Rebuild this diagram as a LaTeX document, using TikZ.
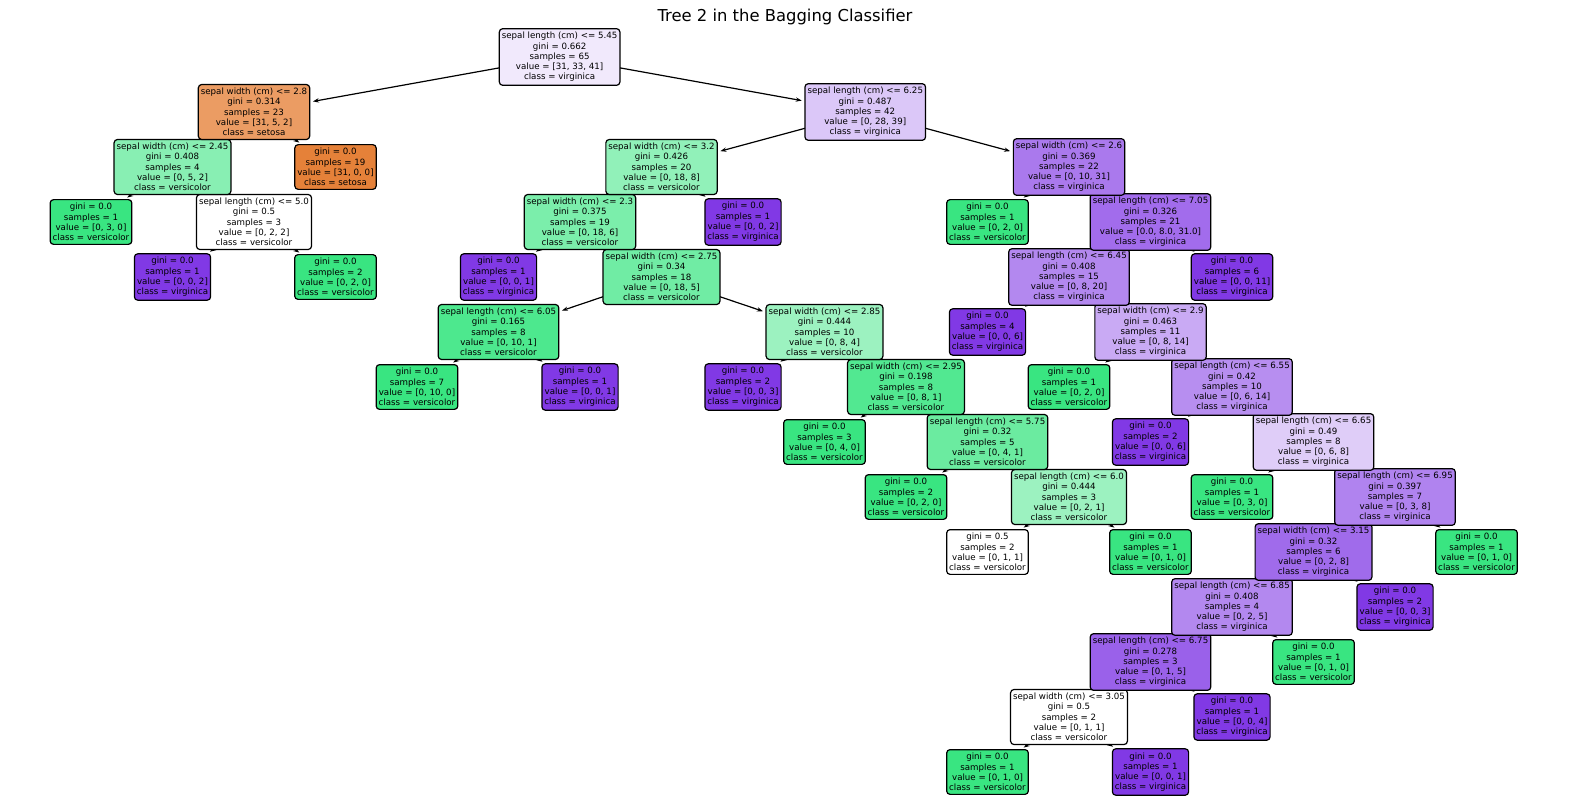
\documentclass[tikz,border=0pt]{standalone}
\usepackage{fontspec}
\setmainfont{DejaVu Sans}
\usetikzlibrary{arrows.meta,backgrounds}
\definecolor{setosa}{RGB}{229,129,57}
\definecolor{versi}{RGB}{57,229,129}
\definecolor{virgi}{RGB}{129,57,229}
\tikzset{
  treebox/.style={draw, line width=0.9pt, rounded corners=2.5pt, align=center, inner xsep=1.9pt, inner ysep=2.7pt, font=\fontsize{6.5pt}{7.7pt}\selectfont},
  branch/.style={->, line width=0.9pt, shorten >=2pt},
}
\begin{document}
\begin{tikzpicture}[x=61.125pt, y=-41.25pt, >={Stealth[length=4.5pt,width=3.2pt]}]
\useasboundingbox (-1.1166,-1.0364) rectangle (18.1472,13.6909);
\node[font=\fontsize{12.3pt}{14pt}\selectfont] (title) at (8.515,-0.727) {Tree 2 in the Bagging Classifier};

% deepest first, so that parents lie on top
\node[treebox, fill=versi] (n42) at (11,13) {gini = 0.0\\samples = 1\\value = [0, 1, 0]\\class = versicolor};
\node[treebox, fill=virgi] (n43) at (13,13) {gini = 0.0\\samples = 1\\value = [0, 0, 1]\\class = virginica};

\node[treebox, fill=white] (n41) at (12,12) {sepal width (cm) <= 3.05\\gini = 0.5\\samples = 2\\value = [0, 1, 1]\\class = versicolor};
\node[treebox, fill=virgi] (n44) at (14,12) {gini = 0.0\\samples = 1\\value = [0, 0, 4]\\class = virginica};

\node[treebox, fill=virgi!80] (n40) at (13,11) {sepal length (cm) <= 6.75\\gini = 0.278\\samples = 3\\value = [0, 1, 5]\\class = virginica};
\node[treebox, fill=versi] (n45) at (15,11) {gini = 0.0\\samples = 1\\value = [0, 1, 0]\\class = versicolor};

\node[treebox, fill=virgi!60] (n39) at (14,10) {sepal length (cm) <= 6.85\\gini = 0.408\\samples = 4\\value = [0, 2, 5]\\class = virginica};
\node[treebox, fill=virgi] (n46) at (16,10) {gini = 0.0\\samples = 2\\value = [0, 0, 3]\\class = virginica};

\node[treebox, fill=white] (n23) at (11,9) {gini = 0.5\\samples = 2\\value = [0, 1, 1]\\class = versicolor};
\node[treebox, fill=versi] (n24) at (13,9) {gini = 0.0\\samples = 1\\value = [0, 1, 0]\\class = versicolor};
\node[treebox, fill=virgi!75] (n38) at (15,9) {sepal width (cm) <= 3.15\\gini = 0.32\\samples = 6\\value = [0, 2, 8]\\class = virginica};
\node[treebox, fill=versi] (n47) at (17,9) {gini = 0.0\\samples = 1\\value = [0, 1, 0]\\class = versicolor};

\node[treebox, fill=versi] (n21) at (10,8) {gini = 0.0\\samples = 2\\value = [0, 2, 0]\\class = versicolor};
\node[treebox, fill=versi!50] (n22) at (12,8) {sepal length (cm) <= 6.0\\gini = 0.444\\samples = 3\\value = [0, 2, 1]\\class = versicolor};
\node[treebox, fill=versi] (n36) at (14,8) {gini = 0.0\\samples = 1\\value = [0, 3, 0]\\class = versicolor};
\node[treebox, fill=virgi!62.5] (n37) at (16,8) {sepal length (cm) <= 6.95\\gini = 0.397\\samples = 7\\value = [0, 3, 8]\\class = virginica};

\node[treebox, fill=versi] (n19) at (9,7) {gini = 0.0\\samples = 3\\value = [0, 4, 0]\\class = versicolor};
\node[treebox, fill=versi!75] (n20) at (11,7) {sepal length (cm) <= 5.75\\gini = 0.32\\samples = 5\\value = [0, 4, 1]\\class = versicolor};
\node[treebox, fill=virgi] (n34) at (13,7) {gini = 0.0\\samples = 2\\value = [0, 0, 6]\\class = virginica};
\node[treebox, fill=virgi!25] (n35) at (15,7) {sepal length (cm) <= 6.65\\gini = 0.49\\samples = 8\\value = [0, 6, 8]\\class = virginica};

\node[treebox, fill=versi] (n14) at (4,6) {gini = 0.0\\samples = 7\\value = [0, 10, 0]\\class = versicolor};
\node[treebox, fill=virgi] (n15) at (6,6) {gini = 0.0\\samples = 1\\value = [0, 0, 1]\\class = virginica};
\node[treebox, fill=virgi] (n17) at (8,6) {gini = 0.0\\samples = 2\\value = [0, 0, 3]\\class = virginica};
\node[treebox, fill=versi!87.5] (n18) at (10,6) {sepal width (cm) <= 2.95\\gini = 0.198\\samples = 8\\value = [0, 8, 1]\\class = versicolor};
\node[treebox, fill=versi] (n32) at (12,6) {gini = 0.0\\samples = 1\\value = [0, 2, 0]\\class = versicolor};
\node[treebox, fill=virgi!57.1] (n33) at (14,6) {sepal length (cm) <= 6.55\\gini = 0.42\\samples = 10\\value = [0, 6, 14]\\class = virginica};

\node[treebox, fill=versi!90] (n13) at (5,5) {sepal length (cm) <= 6.05\\gini = 0.165\\samples = 8\\value = [0, 10, 1]\\class = versicolor};
\node[treebox, fill=versi!50] (n16) at (9,5) {sepal width (cm) <= 2.85\\gini = 0.444\\samples = 10\\value = [0, 8, 4]\\class = versicolor};
\node[treebox, fill=virgi] (n30) at (11,5) {gini = 0.0\\samples = 4\\value = [0, 0, 6]\\class = virginica};
\node[treebox, fill=virgi!42.9] (n31) at (13,5) {sepal width (cm) <= 2.9\\gini = 0.463\\samples = 11\\value = [0, 8, 14]\\class = virginica};

\node[treebox, fill=virgi] (n5) at (1,4) {gini = 0.0\\samples = 1\\value = [0, 0, 2]\\class = virginica};
\node[treebox, fill=versi] (n6) at (3,4) {gini = 0.0\\samples = 2\\value = [0, 2, 0]\\class = versicolor};
\node[treebox, fill=virgi] (n11) at (5,4) {gini = 0.0\\samples = 1\\value = [0, 0, 1]\\class = virginica};
\node[treebox, fill=versi!72.2] (n12) at (7,4) {sepal width (cm) <= 2.75\\gini = 0.34\\samples = 18\\value = [0, 18, 5]\\class = versicolor};
\node[treebox, fill=virgi!60] (n29) at (12,4) {sepal length (cm) <= 6.45\\gini = 0.408\\samples = 15\\value = [0, 8, 20]\\class = virginica};
\node[treebox, fill=virgi] (n48) at (14,4) {gini = 0.0\\samples = 6\\value = [0, 0, 11]\\class = virginica};

\node[treebox, fill=versi] (n3) at (0,3) {gini = 0.0\\samples = 1\\value = [0, 3, 0]\\class = versicolor};
\node[treebox, fill=white] (n4) at (2,3) {sepal length (cm) <= 5.0\\gini = 0.5\\samples = 3\\value = [0, 2, 2]\\class = versicolor};
\node[treebox, fill=versi!66.7] (n10) at (6,3) {sepal width (cm) <= 2.3\\gini = 0.375\\samples = 19\\value = [0, 18, 6]\\class = versicolor};
\node[treebox, fill=virgi] (n25) at (8,3) {gini = 0.0\\samples = 1\\value = [0, 0, 2]\\class = virginica};
\node[treebox, fill=versi] (n27) at (11,3) {gini = 0.0\\samples = 1\\value = [0, 2, 0]\\class = versicolor};
\node[treebox, fill=virgi!74.2] (n28) at (13,3) {sepal length (cm) <= 7.05\\gini = 0.326\\samples = 21\\value = [0.0, 8.0, 31.0]\\class = virginica};

\node[treebox, fill=versi!60] (n2) at (1,2) {sepal width (cm) <= 2.45\\gini = 0.408\\samples = 4\\value = [0, 5, 2]\\class = versicolor};
\node[treebox, fill=setosa] (n7) at (3,2) {gini = 0.0\\samples = 19\\value = [31, 0, 0]\\class = setosa};
\node[treebox, fill=versi!55.6] (n9) at (7,2) {sepal width (cm) <= 3.2\\gini = 0.426\\samples = 20\\value = [0, 18, 8]\\class = versicolor};
\node[treebox, fill=virgi!67.7] (n26) at (12,2) {sepal width (cm) <= 2.6\\gini = 0.369\\samples = 22\\value = [0, 10, 31]\\class = virginica};

\node[treebox, fill=setosa!78.8] (n1) at (2,1) {sepal width (cm) <= 2.8\\gini = 0.314\\samples = 23\\value = [31, 5, 2]\\class = setosa};
\node[treebox, fill=virgi!28.2] (n8) at (9.5,1) {sepal length (cm) <= 6.25\\gini = 0.487\\samples = 42\\value = [0, 28, 39]\\class = virginica};

\node[treebox, fill=virgi!11.1] (n0) at (5.75,0) {sepal length (cm) <= 5.45\\gini = 0.662\\samples = 65\\value = [31, 33, 41]\\class = virginica};

% arrows, under the boxes
\begin{scope}[on background layer]
\foreach \p/\c in {0/1, 0/8, 1/2, 1/7, 2/3, 2/4, 4/5, 4/6, 8/9, 8/26, 9/10, 9/25,
    10/11, 10/12, 12/13, 12/16, 13/14, 13/15, 16/17, 16/18, 18/19, 18/20,
    20/21, 20/22, 22/23, 22/24, 26/27, 26/28, 28/29, 28/48, 29/30, 29/31,
    31/32, 31/33, 33/34, 33/35, 35/36, 35/37, 37/38, 37/47, 38/39, 38/46,
    39/40, 39/45, 40/41, 40/44, 41/42, 41/43}
  \draw[branch] (n\p.center) -- (n\c);
\end{scope}
\end{tikzpicture}
\end{document}
